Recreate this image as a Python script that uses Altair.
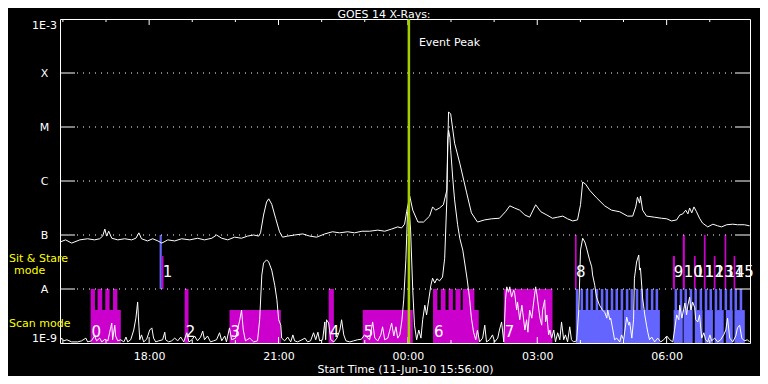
import altair as alt
import numpy as np
import pandas as pd

# ---------------- data: hours after 15:56 UT (10-Jun-2010), log10 flux ----------------
long_hours = [
    0.00, 0.13, 0.27, 0.46, 0.64, 0.80, 0.92, 0.99, 1.04, 1.08,
    1.13, 1.20, 1.34, 1.50, 1.66, 1.76, 1.83, 1.89, 2.03, 2.15,
    2.27, 2.36, 2.50, 2.66, 2.82, 3.01, 3.19, 3.35, 3.52, 3.63,
    3.75, 3.89, 4.05, 4.21, 4.35, 4.49, 4.61, 4.65, 4.72, 4.79,
    4.84, 4.91, 5.00, 5.09, 5.16, 5.28, 5.44, 5.63, 5.79, 5.95,
    6.14, 6.32, 6.48, 6.67, 6.83, 7.00, 7.18, 7.37, 7.53, 7.69,
    7.83, 7.92, 7.99, 8.04, 8.11, 8.18, 8.30, 8.43, 8.57, 8.64,
    8.71, 8.80, 8.89, 8.97, 9.01, 9.06, 9.15, 9.27, 9.43, 9.54,
    9.68, 9.85, 10.01, 10.19, 10.33, 10.43, 10.54, 10.66, 10.78, 10.89,
    11.03, 11.15, 11.29, 11.42, 11.54, 11.66, 11.77, 11.89, 12.00, 12.07,
    12.12, 12.19, 12.28, 12.44, 12.63, 12.79, 12.98, 13.16, 13.28, 13.35,
    13.39, 13.44, 13.46, 13.51, 13.60, 13.78, 13.95, 14.07, 14.18, 14.30,
    14.37, 14.44, 14.51, 14.56, 14.60, 14.65, 14.70, 14.76, 14.83, 14.90,
    15.02, 15.14, 15.25, 15.34, 15.46, 15.60, 15.71, 15.87, 15.99,
]
long_log = [
    -7.13, -7.09, -7.15, -7.09, -7.07, -7.09, -7.07, -7.02, -6.89, -7.02,
    -6.93, -7.06, -7.09, -7.07, -7.09, -7.06, -6.96, -7.07, -7.11, -7.07,
    -7.11, -7.15, -7.09, -7.11, -7.07, -7.09, -7.06, -7.09, -7.06, -7.00,
    -7.06, -7.09, -7.04, -7.06, -7.02, -7.00, -7.02, -6.96, -6.63, -6.39,
    -6.33, -6.43, -6.69, -6.94, -7.04, -7.02, -7.00, -6.98, -7.02, -7.04,
    -6.98, -6.94, -6.96, -6.94, -6.96, -6.93, -6.93, -6.91, -6.93, -6.89,
    -6.85, -6.87, -6.80, -6.56, -6.28, -6.54, -6.76, -6.76, -6.65, -6.48,
    -6.54, -6.50, -6.44, -6.17, -4.72, -4.76, -5.30, -5.67, -6.22, -6.59,
    -6.76, -6.72, -6.70, -6.69, -6.57, -6.46, -6.50, -6.54, -6.63, -6.67,
    -6.44, -6.57, -6.63, -6.69, -6.67, -6.65, -6.70, -6.74, -6.72, -6.44,
    -6.02, -6.06, -6.17, -6.31, -6.46, -6.54, -6.57, -6.65, -6.65, -6.48,
    -6.30, -6.41, -6.28, -6.54, -6.65, -6.67, -6.69, -6.70, -6.74, -6.72,
    -6.63, -6.61, -6.54, -6.61, -6.50, -6.59, -6.48, -6.57, -6.69, -6.78,
    -6.85, -6.80, -6.83, -6.85, -6.81, -6.80, -6.81, -6.81, -6.83,
]

short_hours = [
    0.00, 0.04, 0.09, 0.16, 0.27, 0.41, 0.50, 0.60, 0.64, 0.73,
    0.80, 0.85, 0.92, 0.97, 1.04, 1.11, 1.15, 1.20, 1.22, 1.27,
    1.29, 1.34, 1.41, 1.48, 1.53, 1.57, 1.64, 1.71, 1.76, 1.80,
    1.83, 1.85, 1.89, 1.94, 2.01, 2.08, 2.13, 2.17, 2.22, 2.29,
    2.38, 2.43, 2.45, 2.52, 2.59, 2.66, 2.73, 2.80, 2.87, 2.94,
    2.99, 3.06, 3.12, 3.19, 3.26, 3.31, 3.35, 3.42, 3.49, 3.56,
    3.63, 3.70, 3.75, 3.82, 3.86, 3.93, 3.98, 4.07, 4.17, 4.21,
    4.25, 4.30, 4.40, 4.49, 4.58, 4.63, 4.68, 4.72, 4.79, 4.84,
    4.91, 4.98, 5.03, 5.07, 5.12, 5.14, 5.21, 5.28, 5.35, 5.40,
    5.44, 5.51, 5.61, 5.68, 5.74, 5.81, 5.88, 5.93, 5.98, 6.02,
    6.09, 6.14, 6.16, 6.18, 6.23, 6.28, 6.35, 6.42, 6.49, 6.53,
    6.58, 6.63, 6.72, 6.81, 6.90, 6.99, 7.06, 7.14, 7.18, 7.25,
    7.30, 7.37, 7.44, 7.48, 7.53, 7.60, 7.65, 7.69, 7.74, 7.79,
    7.83, 7.88, 7.93, 7.97, 8.02, 8.06, 8.09, 8.13, 8.18, 8.22,
    8.27, 8.32, 8.37, 8.41, 8.46, 8.50, 8.55, 8.60, 8.64, 8.69,
    8.74, 8.80, 8.87, 8.92, 8.97, 8.99, 9.01, 9.04, 9.06, 9.11,
    9.15, 9.22, 9.27, 9.34, 9.41, 9.45, 9.50, 9.54, 9.59, 9.64,
    9.68, 9.73, 9.80, 9.85, 9.89, 9.96, 10.03, 10.08, 10.15, 10.19,
    10.24, 10.29, 10.33, 10.36, 10.40, 10.43, 10.47, 10.52, 10.54, 10.59,
    10.61, 10.66, 10.71, 10.73, 10.78, 10.82, 10.85, 10.89, 10.94, 10.99,
    11.03, 11.06, 11.08, 11.13, 11.17, 11.19, 11.24, 11.26, 11.29, 11.33,
    11.36, 11.40, 11.45, 11.49, 11.54, 11.59, 11.63, 11.68, 11.72, 11.77,
    11.82, 11.86, 11.91, 11.98, 12.03, 12.07, 12.12, 12.17, 12.21, 12.28,
    12.33, 12.35, 12.40, 12.44, 12.51, 12.58, 12.63, 12.68, 12.70, 12.75,
    12.77, 12.82, 12.86, 12.91, 12.98, 13.02, 13.07, 13.14, 13.19, 13.21,
    13.26, 13.30, 13.32, 13.37, 13.42, 13.44, 13.46, 13.51, 13.56, 13.60,
    13.63, 13.67, 13.72, 13.79, 13.86, 13.93, 14.00, 14.07, 14.14, 14.21,
    14.25, 14.30, 14.35, 14.37, 14.42, 14.46, 14.49, 14.53, 14.56, 14.60,
    14.63, 14.67, 14.72, 14.74, 14.79, 14.83, 14.88, 14.93, 14.97, 15.02,
    15.07, 15.11, 15.18, 15.25, 15.32, 15.39, 15.44, 15.48, 15.53, 15.60,
    15.67, 15.71, 15.76, 15.81, 15.87, 15.94, 15.99,
]
short_log = [
    -8.96, -8.91, -8.96, -8.94, -8.98, -8.98, -8.96, -8.91, -8.98, -8.96,
    -8.87, -8.96, -8.91, -8.98, -8.93, -8.96, -8.81, -8.63, -8.94, -8.67,
    -8.87, -8.96, -8.94, -8.98, -8.89, -8.98, -8.94, -8.76, -8.54, -8.24,
    -8.69, -8.94, -8.85, -8.98, -8.93, -8.76, -8.72, -8.91, -8.98, -8.96,
    -8.94, -8.80, -8.94, -8.98, -8.96, -8.91, -8.96, -8.89, -8.98, -8.81,
    -8.98, -8.94, -8.87, -8.96, -8.89, -8.78, -8.94, -8.87, -8.98, -8.96,
    -8.94, -8.81, -8.96, -8.87, -8.98, -8.72, -8.94, -8.91, -8.57, -8.39,
    -8.76, -8.96, -8.91, -8.98, -8.96, -8.57, -7.74, -7.52, -7.46, -7.50,
    -7.65, -7.93, -8.20, -8.57, -8.67, -8.91, -8.96, -8.89, -8.98, -8.85,
    -8.96, -8.98, -8.94, -8.91, -8.98, -8.96, -8.81, -8.94, -8.80, -8.96,
    -8.94, -8.61, -8.94, -8.57, -8.63, -8.94, -8.98, -8.91, -8.76, -8.57,
    -8.85, -8.96, -8.98, -8.96, -8.94, -8.93, -8.85, -8.91, -8.94, -8.61,
    -8.91, -8.96, -8.85, -8.70, -8.94, -8.91, -8.76, -8.63, -8.87, -8.70,
    -8.91, -8.85, -8.57, -8.20, -7.46, -6.57, -6.44, -6.91, -8.02, -8.67,
    -8.94, -8.76, -8.91, -8.57, -8.30, -8.48, -8.20, -7.93, -7.80, -7.89,
    -7.81, -7.85, -7.78, -7.43, -6.35, -5.24, -5.06, -5.19, -5.43, -5.98,
    -6.35, -6.81, -7.06, -7.28, -7.65, -7.87, -8.20, -8.54, -8.80, -8.94,
    -8.76, -8.98, -8.91, -8.67, -8.98, -8.94, -8.85, -8.98, -8.91, -8.76,
    -8.61, -8.98, -8.20, -7.96, -8.06, -7.96, -8.15, -8.02, -8.06, -8.39,
    -8.24, -8.57, -8.30, -8.43, -8.76, -8.57, -8.80, -8.39, -8.54, -8.20,
    -7.96, -8.11, -8.24, -8.54, -8.67, -8.39, -8.20, -8.61, -8.48, -8.85,
    -8.76, -8.91, -8.76, -8.98, -8.81, -8.94, -8.61, -8.94, -8.85, -8.98,
    -8.70, -8.94, -8.98, -8.96, -8.39, -7.28, -7.06, -7.13, -7.24, -7.46,
    -7.59, -7.74, -7.93, -8.15, -8.30, -8.39, -8.43, -8.54, -8.39, -8.57,
    -8.54, -8.76, -8.94, -8.91, -8.98, -8.85, -8.94, -8.52, -8.67, -8.61,
    -8.91, -8.57, -7.80, -7.50, -7.37, -7.65, -7.61, -8.17, -8.48, -8.67,
    -8.80, -8.94, -8.89, -8.98, -8.91, -8.98, -8.94, -8.87, -8.94, -8.98,
    -8.76, -8.48, -8.57, -8.30, -8.54, -8.39, -8.26, -8.48, -8.30, -8.15,
    -8.39, -8.24, -8.35, -8.57, -8.61, -8.48, -8.91, -8.81, -8.94, -8.98,
    -8.85, -8.96, -8.91, -8.98, -8.94, -8.85, -8.76, -8.54, -8.91, -8.98,
    -8.87, -8.72, -8.67, -8.91, -8.96, -8.94, -8.98,
]

# observation blocks: start / end (hours), bottom / top (log10 flux), mode group
blk_start = [0.71, 0.71, 0.87, 1.05, 1.23, 2.89, 3.93, 6.23, 7.02, 8.65,
             8.65, 8.83, 9.01, 9.17, 9.34, 10.29,
             2.31, 2.36,
             11.96, 13.07,
             11.96, 12.07, 12.19, 12.30, 12.42, 12.54, 12.65, 12.77, 12.88,
             13.00, 13.12, 13.23, 13.35, 13.46, 13.58, 13.70, 13.81,
             14.23, 14.46, 14.72, 14.95, 15.18, 15.44, 15.64,
             14.25, 14.37, 14.48, 14.60, 14.71, 14.83, 14.95, 15.06, 15.18,
             15.29, 15.41, 15.53, 15.64, 15.76,
             11.94, 14.21, 14.44, 14.70, 14.93, 15.16, 15.41, 15.62]
blk_end = [1.41, 0.81, 0.98, 1.15, 1.33, 2.98, 5.12, 6.35, 8.18, 9.71,
           8.75, 8.94, 9.11, 9.29, 9.61, 11.42,
           2.36, 2.40,
           13.05, 13.91,
           12.02, 12.13, 12.25, 12.36, 12.48, 12.60, 12.71, 12.83, 12.94,
           13.06, 13.18, 13.29, 13.41, 13.52, 13.64, 13.76, 13.87,
           14.44, 14.67, 14.90, 15.14, 15.39, 15.60, 15.88,
           14.31, 14.43, 14.54, 14.66, 14.77, 14.89, 15.01, 15.12, 15.24,
           15.35, 15.47, 15.59, 15.70, 15.82,
           11.98, 14.26, 14.49, 14.74, 14.97, 15.20, 15.45, 15.66]
blk_lo = [-9, -8.39, -8.39, -8.39, -8.39, -9, -9, -9, -9, -9,
          -8.39, -8.39, -8.39, -8.39, -8.39, -9,
          -8, -8,
          -9, -9,
          -8.39, -8.39, -8.39, -8.39, -8.39, -8.39, -8.39, -8.39, -8.39,
          -8.39, -8.39, -8.39, -8.39, -8.39, -8.39, -8.39, -8.39,
          -9, -9, -9, -9, -9, -9, -9,
          -8.39, -8.39, -8.39, -8.39, -8.39, -8.39, -8.39, -8.39, -8.39,
          -8.39, -8.39, -8.39, -8.39, -8.39,
          -8, -8, -8, -8, -8, -8, -8, -8]
blk_hi = [-8.39, -8, -8, -8, -8, -8, -8.39, -8, -8.39, -8.39,
          -8, -8, -8, -8, -8, -8,
          -7, -7.39,
          -8.39, -8.39,
          -8, -8, -8, -8, -8, -8, -8, -8, -8,
          -8, -8, -8, -8, -8, -8, -8, -8,
          -8.39, -8.39, -8.39, -8.39, -8.39, -8.39, -8.39,
          -8, -8, -8, -8, -8, -8, -8, -8, -8,
          -8, -8, -8, -8, -8,
          -7, -7.39, -7, -7.39, -7, -7.39, -7, -7.39]
blk_grp = (["m"] * 16 + ["b", "m"] + ["b"] * 2 + ["b"] * 17 + ["b"] * 7
           + ["b"] * 14 + ["m"] * 8)

lab_text = ["0", "1", "2", "3", "4", "5", "6", "7", "8",
            "9", "10", "11", "12", "13", "14", "15"]
lab_hours = [0.71, 2.36, 2.89, 3.93, 6.23, 7.02, 8.65, 10.29, 11.94,
             14.21, 14.44, 14.70, 14.93, 15.16, 15.41, 15.62]
lab_log = [-8.80, -7.69, -8.80, -8.80, -8.80, -8.80, -8.80, -8.80, -7.69,
           -7.69, -7.69, -7.69, -7.69, -7.69, -7.69, -7.69]

event_hours = [8.09]

level_values = [1e-9, 1e-8, 1e-7, 1e-6, 1e-5, 1e-4, 1e-3]
level_labels = ["1E-9", "A", "B", "C", "M", "X", "1E-3"]

major_tick_hours = [2.0667, 5.0667, 8.0667, 11.0667, 14.0667]
major_tick_labels = ["18:00", "21:00", "00:00", "03:00", "06:00"]
minor_tick_hours = [0.0667, 1.0667, 3.0667, 4.0667, 6.0667, 7.0667,
                    9.0667, 10.0667, 12.0667, 13.0667, 15.0667]

# ---------------- frames ----------------
long_df = pd.DataFrame({"t": long_hours, "flux": 10.0 ** np.array(long_log)})
short_df = pd.DataFrame({"t": short_hours, "flux": 10.0 ** np.array(short_log)})
blk_df = pd.DataFrame({
    "t": blk_start, "t2": blk_end,
    "flux": 10.0 ** np.array(blk_lo, dtype=float),
    "flux2": 10.0 ** np.array(blk_hi, dtype=float),
    "grp": blk_grp,
})
lab_df = pd.DataFrame({"t": lab_hours, "flux": 10.0 ** np.array(lab_log), "txt": lab_text})
lev_df = pd.DataFrame({"flux": level_values[1:-1]})
major_df = pd.DataFrame({"t": major_tick_hours})
minor_df = pd.DataFrame({"t": minor_tick_hours})
event_df = pd.DataFrame({"t": event_hours, "txt": ["Event Peak"]})

FONT = "DejaVu Sans"
W, H = 690, 324

x_expr = ""
for v, l in zip(major_tick_hours, major_tick_labels):
    x_expr += f"datum.value < {v + 1.0} ? '{l}' : "
x_expr += "''"

y_expr = ""
for v, l in zip(level_values, level_labels):
    y_expr += f"round(log(datum.value) / LN10) == {int(round(np.log10(v)))} ? '{l}' : "
y_expr += "''"

xscale = alt.Scale(domain=[0, 16], nice=False, zero=False)
yscale = alt.Scale(type="log", domain=[1e-9, 1e-3], nice=False)

xaxis = alt.Axis(values=major_tick_hours, labelExpr=x_expr, tickSize=0, domain=False,
                 grid=False, labelColor="white", labelFont=FONT, labelFontSize=11,
                 labelPadding=7, labelFlush=False,
                 title="Start Time (11-Jun-10 15:56:00)", titleColor="white",
                 titleFont=FONT, titleFontSize=11, titleFontWeight="normal",
                 titlePadding=2)
yaxis = alt.Axis(values=level_values, labelExpr=y_expr, tickSize=0, domain=False,
                 grid=False, labelColor="white", labelFont=FONT, labelFontSize=11,
                 labelAlign="center", labelPadding=16, labelFlush=True, title=None)


def X(f):
    return alt.X(f, type="quantitative", scale=xscale, axis=xaxis)


def Y(f):
    return alt.Y(f, type="quantitative", scale=yscale, axis=yaxis)


blocks = alt.Chart(blk_df).mark_rect().encode(
    x=X("t"), x2="t2", y=Y("flux"), y2="flux2",
    color=alt.Color("grp:N", scale=alt.Scale(domain=["m", "b"], range=["#cc00cc", "#6464ff"]),
                    legend=None),
)

grid = alt.Chart(lev_df).mark_rule(color="white", strokeWidth=1, strokeDash=[1, 5]).encode(
    y=Y("flux"), x=alt.value(17), x2=alt.value(675))
ltick = alt.Chart(lev_df).mark_rule(color="white", strokeWidth=1).encode(
    y=Y("flux"), x=alt.value(0), x2=alt.value(15))
rtick = alt.Chart(lev_df).mark_rule(color="white", strokeWidth=1).encode(
    y=Y("flux"), x=alt.value(675), x2=alt.value(690))

top_major = alt.Chart(major_df).mark_rule(color="white").encode(
    x=X("t"), y=alt.value(0), y2=alt.value(6))
top_minor = alt.Chart(minor_df).mark_rule(color="white").encode(
    x=X("t"), y=alt.value(0), y2=alt.value(3))
bot_major = alt.Chart(major_df).mark_rule(color="white").encode(
    x=X("t"), y=alt.value(H), y2=alt.value(H - 6))
bot_minor = alt.Chart(minor_df).mark_rule(color="white").encode(
    x=X("t"), y=alt.value(H), y2=alt.value(H - 3))

short_line = alt.Chart(short_df).mark_line(color="white", strokeWidth=1, clip=True).encode(
    x=X("t"), y=Y("flux"))
long_line = alt.Chart(long_df).mark_line(color="white", strokeWidth=1, clip=True).encode(
    x=X("t"), y=Y("flux"))

event_rule = alt.Chart(event_df).mark_rule(color="#a4d000", strokeWidth=2.5).encode(x=X("t"))
event_text = alt.Chart(event_df).mark_text(
    color="white", font=FONT, fontSize=11, align="left", baseline="middle", dx=10
).encode(x=X("t"), y=alt.value(24), text="txt:N")

labels = alt.Chart(lab_df).mark_text(
    color="white", font=FONT, fontSize=15, align="left", baseline="middle", dx=1
).encode(x=X("t"), y=Y("flux"), text="txt:N")


def pix_text(txt, px, py, color="white", size=11, align="left"):
    return alt.Chart(pd.DataFrame({"txt": [txt]})).mark_text(
        color=color, font=FONT, fontSize=size, align=align, baseline="middle"
    ).encode(x=alt.value(px), y=alt.value(py), text="txt:N")


title = pix_text("GOES 14 X-Rays:", 324, -4.5, size=11, align="center")
sit1 = pix_text("Sit & Stare", -51, 240, color="#ffff00", size=11)
sit2 = pix_text("mode", -46, 252, color="#ffff00", size=11)
scan = pix_text("Scan mode", -51, 305, color="#ffff00", size=11)

chart = alt.layer(
    blocks, grid, ltick, rtick, top_major, top_minor, bot_major, bot_minor,
    short_line, long_line, event_rule, event_text, labels,
    title, sit1, sit2, scan,
).properties(
    width=W, height=H,
    autosize=alt.AutoSizeParams(type="none"),
    padding={"left": 52, "top": 11, "right": 10, "bottom": 33},
    background="black",
    usermeta={"embedOptions": {"defaultStyle": "html,body{background:#000}"}},
).configure_view(stroke="white", strokeWidth=1)

chart.save("out.html", embed_options={"renderer": "svg", "actions": False})
